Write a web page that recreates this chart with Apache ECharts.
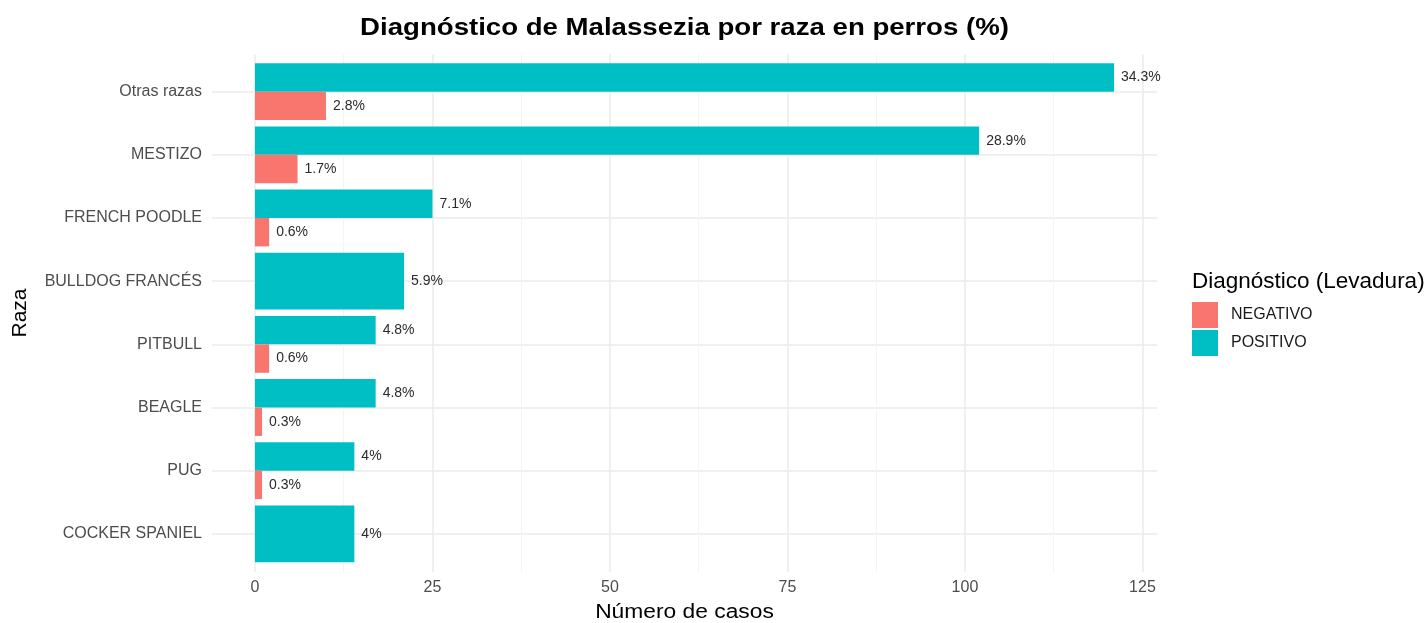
<!DOCTYPE html>
<html>
<head>
<meta charset="utf-8">
<script src="https://cdn.jsdelivr.net/npm/echarts@6/dist/echarts.min.js"></script>
<style>
  html, body { margin: 0; padding: 0; background: #fff; }
  #chart { width: 1428px; height: 623px; }
</style>
</head>
<body>
<div id="chart"></div>
<script>
// datos
const breeds = ['Otras razas', 'MESTIZO', 'FRENCH POODLE', 'BULLDOG FRANCÉS', 'PITBULL', 'BEAGLE', 'PUG', 'COCKER SPANIEL'];
const positivo = [121, 102, 25, 21, 17, 17, 14, 14];
const negativo = [10, 6, 2, null, 2, 1, 1, null];
const pctPositivo = ['34.3%', '28.9%', '7.1%', '5.9%', '4.8%', '4.8%', '4%', '4%'];
const pctNegativo = ['2.8%', '1.7%', '0.6%', null, '0.6%', '0.3%', '0.3%', null];
const xTicks = [0, 25, 50, 75, 100, 125];

const RED = '#F8766D';
const TEAL = '#00BFC4';
const FONT = '"Liberation Sans", Arial, sans-serif';

// panel (estilo ggplot)
const W = 1428, H = 623;
const panelL = 212, panelR = 1157, panelT = 54, panelB = 572;
const rowC0 = 91.7, rowPitch = 63.16;
const xMin = -0.05 * 121, xMax = 1.05 * 121;
const pxPerUnit = (panelR - panelL) / (xMax - xMin);
const zeroPx = panelL + (0 - xMin) * pxPerUnit;
const lastTickPx = zeroPx + xTicks[xTicks.length - 1] * pxPerUnit;
const panelMid = (panelL + panelR) / 2;

// barras que ocupan todo el ancho (solo un diagnóstico)
const posDodge = positivo.map((v, i) => negativo[i] == null ? null : v);
const posSolo = positivo.map((v, i) => negativo[i] == null ? v : null);

const chart = echarts.init(document.getElementById('chart'));

const labelStyle = (arr) => ({
  show: true,
  position: 'right',
  distance: 7,
  color: '#2b2b2b',
  fontSize: 14,
  fontFamily: FONT,
  formatter: p => arr[p.dataIndex] || ''
});

chart.setOption({
  animation: false,
  backgroundColor: '#fff',
  grid: [
    // barras
    { left: panelL, right: W - panelR, top: rowC0 - rowPitch / 2, bottom: H - (rowC0 + rowPitch * 7.5) },
    // líneas verticales de la cuadrícula
    { left: zeroPx, right: W - lastTickPx, top: panelT, bottom: H - panelB },
    // líneas horizontales en el centro de cada raza
    { left: panelL, right: W - panelR, top: rowC0, bottom: H - (rowC0 + rowPitch * 7) }
  ],
  xAxis: [
    { gridIndex: 0, type: 'value', min: xMin, max: xMax, show: false },
    {
      gridIndex: 1, type: 'value', min: 0, max: 125, interval: 25,
      axisLine: { show: false }, axisTick: { show: false },
      axisLabel: { color: '#4d4d4d', fontSize: 16, fontFamily: FONT, margin: 8 },
      splitLine: { show: true, lineStyle: { color: '#ebebeb', width: 1.5 } },
      minorTick: { show: false, splitNumber: 2 },
      minorSplitLine: { show: true, lineStyle: { color: '#f4f4f4', width: 1 } }
    },
    { gridIndex: 2, type: 'value', show: false },
    { gridIndex: 0, type: 'value', min: xMin, max: xMax, show: false }
  ],
  yAxis: [
    {
      gridIndex: 0, type: 'category', data: breeds, inverse: true,
      axisLine: { show: false }, axisTick: { show: false },
      splitLine: { show: false },
      axisLabel: { color: '#4d4d4d', fontSize: 16, fontFamily: FONT, margin: 10 }
    },
    { gridIndex: 1, type: 'value', show: false },
    {
      gridIndex: 2, type: 'category', data: breeds, inverse: true, boundaryGap: false,
      axisLine: { show: false }, axisTick: { show: false }, axisLabel: { show: false },
      splitLine: { show: true, lineStyle: { color: '#ebebeb', width: 1.5 } }
    },
    { gridIndex: 0, type: 'category', data: breeds, inverse: true, show: false }
  ],
  legend: {
    data: ['NEGATIVO', 'POSITIVO'],
    orient: 'vertical',
    left: 1192, top: 302,
    padding: 0,
    itemWidth: 26, itemHeight: 26, itemGap: 2,
    icon: 'rect',
    selectedMode: false,
    textStyle: { color: '#1a1a1a', fontSize: 16, fontFamily: FONT, padding: [0, 0, 0, 8] }
  },
  graphic: [
    {
      type: 'text', x: panelMid, y: 29, scaleX: 1.2,
      style: { text: 'Diagnóstico de Malassezia por raza en perros (%)', x: 0, y: 0,
        textAlign: 'center', textVerticalAlign: 'middle', fontSize: 23, fontWeight: 'bold', fontFamily: FONT, fill: '#000' }
    },
    {
      type: 'text', x: panelMid, y: 612, scaleX: 1.14,
      style: { text: 'Número de casos', x: 0, y: 0, textAlign: 'center', textVerticalAlign: 'middle',
        fontSize: 20, fontFamily: FONT, fill: '#000' }
    },
    {
      type: 'text', rotation: Math.PI / 2, x: 20, y: (panelT + panelB) / 2,
      style: { text: 'Raza', x: 0, y: 0, textAlign: 'center', textVerticalAlign: 'middle',
        fontSize: 21, fontFamily: FONT, fill: '#000' }
    },
    {
      type: 'text',
      style: { text: 'Diagnóstico (Levadura)', x: 1192, y: 282, textAlign: 'left', textVerticalAlign: 'middle',
        fontSize: 22.5, fontFamily: FONT, fill: '#000' }
    }
  ],
  series: [
    {
      name: 'POSITIVO', type: 'bar', xAxisIndex: 0, yAxisIndex: 0,
      data: posDodge, barGap: '0%', barCategoryGap: '10%',
      itemStyle: { color: TEAL }, label: labelStyle(pctPositivo)
    },
    {
      name: 'NEGATIVO', type: 'bar', xAxisIndex: 0, yAxisIndex: 0,
      data: negativo, barGap: '0%', barCategoryGap: '10%',
      itemStyle: { color: RED }, label: labelStyle(pctNegativo)
    },
    {
      name: 'POSITIVO', type: 'bar', xAxisIndex: 3, yAxisIndex: 3,
      data: posSolo, barCategoryGap: '10%',
      itemStyle: { color: TEAL }, label: labelStyle(pctPositivo)
    },
    // series vacías solo para activar las rejillas auxiliares
    { type: 'scatter', xAxisIndex: 1, yAxisIndex: 1, data: [], silent: true },
    { type: 'scatter', xAxisIndex: 2, yAxisIndex: 2, data: [], silent: true }
  ]
});
</script>
</body>
</html>
